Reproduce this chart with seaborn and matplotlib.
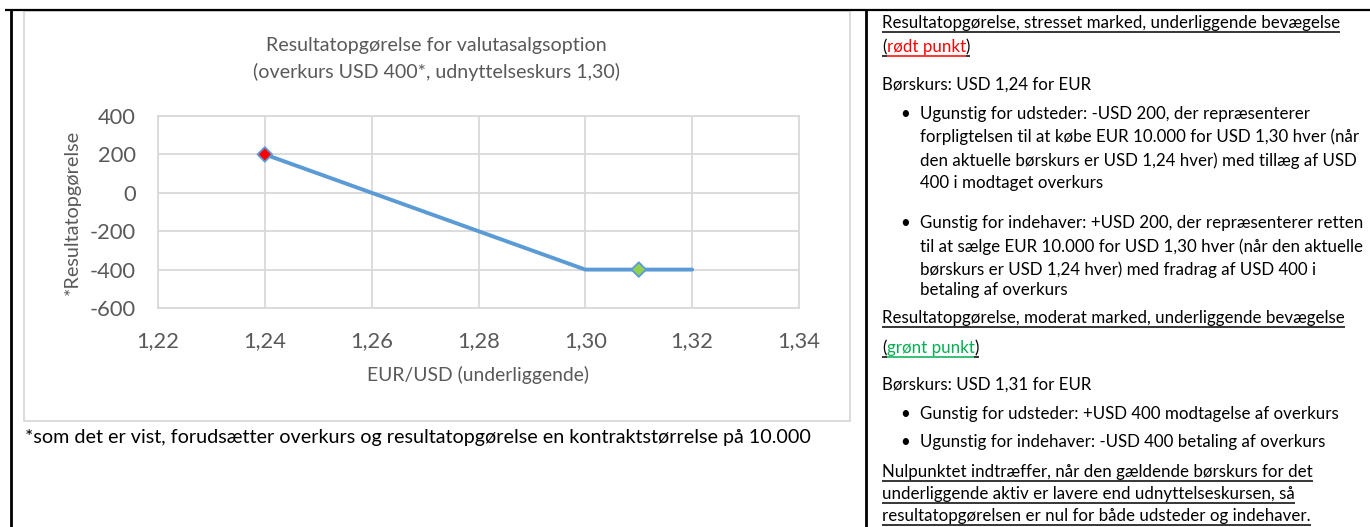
import matplotlib
matplotlib.use("Agg")
import matplotlib.pyplot as plt
import seaborn as sns
import pandas as pd
from matplotlib.lines import Line2D
from matplotlib.patches import Rectangle

# ---------------- data ----------------
payoff_x = [1.24, 1.30, 1.32]
payoff_y = [200, -400, -400]
point_x = [1.24, 1.31]
point_y = [200, -400]
point_names = ["rødt punkt", "grønt punkt"]
point_colors = ["#FF0000", "#92D050"]
x_ticks = [1.22, 1.24, 1.26, 1.28, 1.30, 1.32, 1.34]
y_ticks = [-600, -400, -200, 0, 200, 400]
x_tick_labels = ["1,22", "1,24", "1,26", "1,28", "1,30", "1,32", "1,34"]
y_tick_labels = ["-600", "-400", "-200", "0", "200", "400"]

title_lines = ["Resultatopgørelse for valutasalgsoption",
               "(overkurs USD 400*, udnyttelseskurs 1,30)"]
x_label = "EUR/USD (underliggende)"
y_label = "*Resultatopgørelse"
footnote = "*som det er vist, forudsætter overkurs og resultatopgørelse en kontraktstørrelse på 10.000"

BLACK = "#000000"
right_rows = [
    (28, 882, "Resultatopgørelse, stresset marked, underliggende bevægelse", "u"),
    (52, 882, [("(", BLACK), ("rødt punkt", "#FF0000"), (")", BLACK)], "u"),
    (90, 882, "Børskurs: USD 1,24 for EUR", ""),
    (119, 920, "Ugunstig for udsteder: -USD 200, der repræsenterer", "b"),
    (142, 920, "forpligtelsen til at købe EUR 10.000 for USD 1,30 hver (når", ""),
    (166, 920, "den aktuelle børskurs er USD 1,24 hver) med tillæg af USD", ""),
    (188, 920, "400 i modtaget overkurs", ""),
    (228, 920, "Gunstig for indehaver: +USD 200, der repræsenterer retten", "b"),
    (252, 920, "til at sælge EUR 10.000 for USD 1,30 hver (når den aktuelle", ""),
    (275, 920, "børskurs er USD 1,24 hver) med fradrag af USD 400 i", ""),
    (295, 920, "betaling af overkurs", ""),
    (323, 882, "Resultatopgørelse, moderat marked, underliggende bevægelse", "u"),
    (353, 882, [("(", BLACK), ("grønt punkt", "#00B050"), (")", BLACK)], "u"),
    (390, 882, "Børskurs: USD 1,31 for EUR", ""),
    (419, 920, "Gunstig for udsteder: +USD 400 modtagelse af overkurs", "b"),
    (447, 920, "Ugunstig for indehaver: -USD 400 betaling af overkurs", "b"),
    (477, 882, "Nulpunktet indtræffer, når den gældende børskurs for det", "u"),
    (499, 882, "underliggende aktiv er lavere end udnyttelseskursen, så", "u"),
    (521, 882, "resultatopgørelsen er nul for både udsteder og indehaver.", "u"),
]

# ---------------- style ----------------
W, H = 1370, 527
FONT = ["Lato", "DejaVu Sans"]
GRAY = "#595959"
GRID = "#D9D9D9"
LINE = "#5B9BD5"

sns.set_theme(style="white")
plt.rcParams["font.family"] = FONT

fig = plt.figure(figsize=(W / 100, H / 100), dpi=100)
fig.patch.set_facecolor("white")
renderer = fig.canvas.get_renderer()


def fx(x):
    return x / W


def fy(y):
    return 1 - y / H


def fit(s, target, **kw):
    t = fig.text(0, 0, s, fontsize=10, **kw)
    w = t.get_window_extent(renderer).width
    t.remove()
    return 10 * target / w


def hline(x0, x1, y, color=BLACK, lw=1.0):
    fig.add_artist(Line2D([fx(x0), fx(x1)], [fy(y), fy(y)], color=color, lw=lw,
                          transform=fig.transFigure, solid_capstyle="butt"))


def vline(x, y0, y1, color=BLACK, lw=1.0):
    fig.add_artist(Line2D([fx(x), fx(x)], [fy(y0), fy(y1)], color=color, lw=lw,
                          transform=fig.transFigure, solid_capstyle="butt"))


# ---------------- table borders ----------------
hline(5, W, 9.5, lw=1.6)
vline(10.5, 9, H, lw=2.0)
vline(866.5, 9, H, lw=2.0)

# chart frame
fig.add_artist(Rectangle((fx(24), fy(421)), fx(850) - fx(24), fy(11) - fy(421),
                         transform=fig.transFigure, fill=False, edgecolor=GRID, lw=1.3))

# ---------------- chart ----------------
ax = fig.add_axes([fx(158), fy(308), fx(799) - fx(158), fy(116) - fy(308)])
df_line = pd.DataFrame({"x": payoff_x, "y": payoff_y})
df_pts = pd.DataFrame({"x": point_x, "y": point_y, "name": point_names})
sns.lineplot(data=df_line, x="x", y="y", ax=ax, color=LINE, linewidth=2.8, zorder=2)
sns.scatterplot(data=df_pts, x="x", y="y", hue="name",
                palette=dict(zip(point_names, point_colors)), marker="D", s=55,
                edgecolor=LINE, linewidth=1.3, legend=False, ax=ax, zorder=3)
ax.set_xlim(x_ticks[0], x_ticks[-1])
ax.set_ylim(y_ticks[0], y_ticks[-1])
ax.set_xticks(x_ticks, labels=x_tick_labels)
ax.set_yticks(y_ticks, labels=y_tick_labels)
ax.set_xlabel("")
ax.set_ylabel("")
ax.grid(True, color=GRID, linewidth=1.3)
ax.set_axisbelow(True)
for sp in ax.spines.values():
    sp.set_visible(True)
    sp.set_color(GRID)
    sp.set_linewidth(1.3)
tick_fs = fit("400", 38)
ax.tick_params(axis="both", length=0, labelsize=tick_fs, labelcolor=GRAY)
ax.tick_params(axis="y", pad=22 * 0.72)
ax.tick_params(axis="x", pad=23 * 0.72)
ax.set_facecolor("white")

# titles / labels
title_fs = fit(title_lines[0], 342)
fig.text(fx(436), fy(45), title_lines[0], ha="center", va="center", fontsize=title_fs, color=GRAY)
fig.text(fx(436), fy(72), title_lines[1], ha="center", va="center", fontsize=title_fs, color=GRAY)
lab_fs = fit(x_label, 222)
fig.text(fx(478), fy(375), x_label, ha="center", va="center", fontsize=lab_fs, color=GRAY)
ylab_fs = fit(y_label, 166)
fig.text(fx(72), fy(212), y_label, ha="center", va="center", rotation=90, fontsize=ylab_fs, color=GRAY)

foot_fs = fit(footnote, 788)
fig.text(fx(25), fy(437), footnote, ha="left", va="center", fontsize=foot_fs, color=BLACK)

# ---------------- right column ----------------
body_fs = min(
    fit(right_rows[0][2], 471),
    fit(right_rows[4][2], 439),
    fit(right_rows[7][2], 446),
    fit(right_rows[8][2], 440),
    fit(right_rows[11][2], 471),
)
for base, x0, content, kind in right_rows:
    pieces = content if isinstance(content, list) else [(content, BLACK)]
    x = x0
    for s, col in pieces:
        t = fig.text(fx(x), fy(base), s, ha="left", va="baseline", fontsize=body_fs, color=col)
        bb = t.get_window_extent(renderer)
        x1 = bb.x1
        if "u" in kind:
            hline(x, x1, base + 3.5, color=col, lw=1.1)
        x = x1
    if kind == "b":
        fig.text(fx(905), fy(base), "•", ha="center", va="baseline", fontsize=body_fs, color=BLACK)

fig.savefig("out.png", dpi=100)
